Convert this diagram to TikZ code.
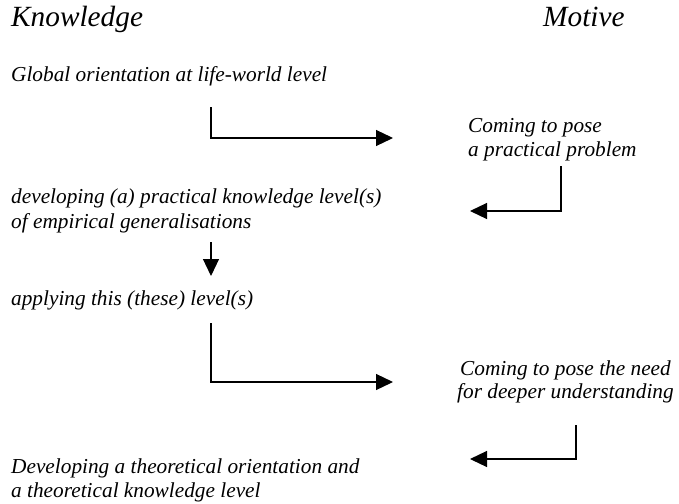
\documentclass[tikz,border=0pt]{standalone}
\usepackage{fontspec}
\setmainfont{Liberation Serif}
\usetikzlibrary{arrows.meta}
\begin{document}
\begin{tikzpicture}[x=1pt,y=-1pt,
  head/.style={anchor=base west,inner sep=0pt,font=\fontsize{29.3}{34}\selectfont\itshape},
  txt/.style={anchor=base west,inner sep=0pt,font=\fontsize{21.3}{25}\selectfont\itshape},
  flow/.style={line width=1.2pt,-{Triangle[length=17pt,width=16pt]}}]
\useasboundingbox (0,0) rectangle (679,503);

% column headings
\node[head] (know) at (11,27) {Knowledge};
\node[head] (motive) at (543,27) {Motive};

% knowledge column
\node[txt] (glob) at (11,81) {Global orientation at life-world level};
\node[txt] (dev1) at (11,203) {developing (a) practical knowledge level(s)};
\node[txt] (dev2) at (11,228) {of empirical generalisations};
\node[txt] (appl) at (11,305) {applying this (these) level(s)};
\node[txt] (theo1) at (11,473) {Developing a theoretical orientation and};
\node[txt] (theo2) at (11,497) {a theoretical knowledge level};

% motive column
\node[txt] (prob1) at (468,132) {Coming to pose};
\node[txt] (prob2) at (468,156) {a practical problem};
\node[txt] (need1) at (460,375) {Coming to pose the need};
\node[txt] (need2) at (457,398) {for deeper understanding};

% connector end points
\coordinate (g0) at (211,107);
\coordinate (g1) at (393,138);
\coordinate (p0) at (561,166);
\coordinate (p1) at (470,211);
\coordinate (d0) at (211,242);
\coordinate (d1) at (211,276);
\coordinate (a0) at (211,323);
\coordinate (a1) at (393,382);
\coordinate (n0) at (576,425);
\coordinate (n1) at (470,459);

\draw[flow] (g0) |- (g1);
\draw[flow] (p0) |- (p1);
\draw[flow] (d0) -- (d1);
\draw[flow] (a0) |- (a1);
\draw[flow] (n0) |- (n1);
\end{tikzpicture}
\end{document}
